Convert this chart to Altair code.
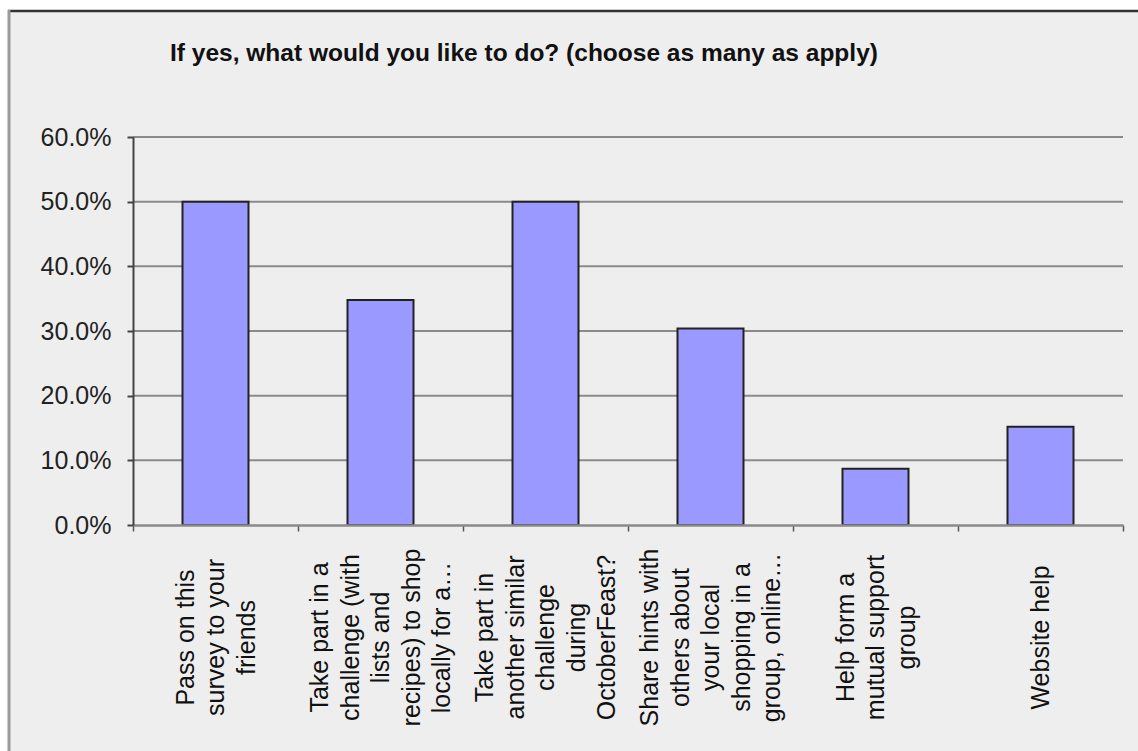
import altair as alt
import pandas as pd

title_text = "If yes, what would you like to do? (choose as many as apply)"

label_lines = [
    ["Pass on this", "survey to your", "friends"],
    ["Take part in a", "challenge (with", "lists and", "recipes) to shop", "locally for a…"],
    ["Take part in", "another similar", "challenge", "during", "OctoberFeast?"],
    ["Share hints with", "others about", "your local", "shopping in a", "group, online…"],
    ["Help form a", "mutual support", "group"],
    ["Website help"],
]
values = [0.500, 0.348, 0.500, 0.304, 0.087, 0.152]
y_ticks = [0.0, 0.1, 0.2, 0.3, 0.4, 0.5, 0.6]

categories = ["|".join(l) for l in label_lines]
df = pd.DataFrame({"cat": categories, "value": values})
grid_df = pd.DataFrame({"tick": y_ticks[1:]})

W, H = 990, 388
LINE_H = 30.5

xscale = alt.Scale(paddingInner=0, paddingOuter=0)
yscale = alt.Scale(domain=[0, 0.6], nice=False)

y_axis = alt.Axis(
    values=y_ticks, format=".1%", grid=False,
    labelFontSize=25, labelFont="Liberation Sans", labelColor="#222222",
    labelPadding=16, tickSize=6, tickColor="#444444", tickWidth=2,
    domainColor="#444444", domainWidth=2, zindex=1,
)

line_counts = sorted({len(l) for l in label_lines if len(l) > 1}, reverse=True)
offset_conditions = [
    {"test": f"length(split(datum.value, '|')) == {n}", "value": -(n - 1) * LINE_H / 2}
    for n in line_counts
]

frame = alt.Chart(pd.DataFrame({"a": [0]})).mark_rect(
    fill="#EEEEEE"
).encode(
    x=alt.value(-125), x2=alt.value(W + 40), y=alt.value(-127), y2=alt.value(H + 300)
)
top_line = alt.Chart(pd.DataFrame({"a": [0]})).mark_rule(
    color="#333333", strokeWidth=2.5
).encode(x=alt.value(-125), x2=alt.value(W + 40), y=alt.value(-126))
left_line = alt.Chart(pd.DataFrame({"a": [0]})).mark_rule(
    color="#9a9a9a", strokeWidth=3
).encode(x=alt.value(-124), y=alt.value(-127), y2=alt.value(H + 300))

grid = alt.Chart(grid_df).mark_rule(color="#8a8a8a", strokeWidth=2).encode(
    y=alt.Y("tick:Q", scale=yscale, axis=y_axis, title=None),
    x=alt.value(0), x2=alt.value(W),
)

bars = alt.Chart(df).mark_bar(
    width=alt.RelativeBandSize(0.4), color="#9999FF", stroke="#222222", strokeWidth=2
).encode(
    x=alt.X(
        "cat:N", sort=None, scale=xscale, title=None,
        axis=alt.Axis(
            labelExpr="split(datum.label, '|')",
            labelAngle=270, labelAlign="center", labelBaseline="middle",
            labelFontSize=25, labelLineHeight=LINE_H, labelFont="Liberation Sans",
            labelColor="#111111", labelPadding=106, labelLimit=500,
            labelOffset={"condition": offset_conditions, "value": 0},
            labelOverlap=False, labelBound=False,
            tickBand="extent", tickSize=6, tickColor="#555555", tickWidth=1.5,
            domainColor="#8a8a8a", domainWidth=2.5, zindex=1, grid=False,
        ),
    ),
    y=alt.Y("value:Q", scale=yscale, title=None, axis=y_axis),
)

chart = alt.layer(frame, top_line, left_line, grid, bars).properties(
    width=W, height=H,
    autosize=alt.AutoSizeParams(type="none"),
    padding={"left": 133, "top": 137, "right": 15, "bottom": 226},
    background="white",
    title=alt.TitleParams(
        title_text, anchor="start", frame="group", dx=37, offset=-58,
        font="Liberation Sans", fontSize=24.5, fontWeight="bold", color="#111111",
    ),
).configure_view(stroke=None)

chart.save("out.html", embed_options={"renderer": "svg", "actions": False})
